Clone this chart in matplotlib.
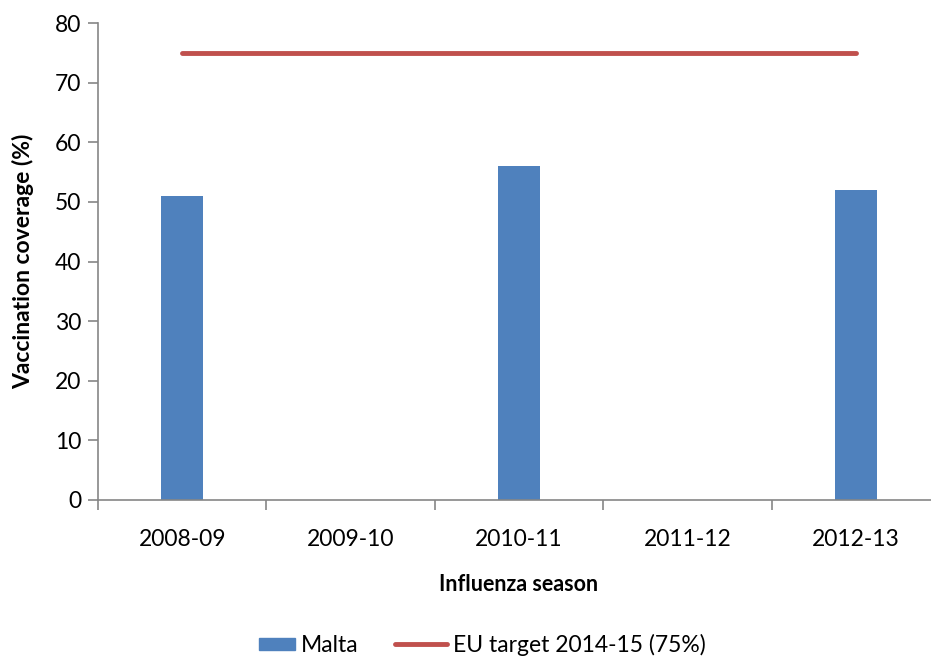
import numpy as np
import matplotlib.pyplot as plt
from matplotlib.patches import Patch, Rectangle
from matplotlib.lines import Line2D
from matplotlib.legend_handler import HandlerPatch

plt.rcParams['font.family'] = ['Lato', 'DejaVu Sans']

# Data
seasons = ['2008-09', '2009-10', '2010-11', '2011-12', '2012-13']
malta = [51, np.nan, 56, np.nan, 52]
eu_target = [75, 75, 75, 75, 75]

bar_color = '#4F81BD'
line_color = '#C0504D'
axis_color = '#868686'

fig = plt.figure(figsize=(9.31, 6.59), dpi=100)
# axes extends a bit beyond the right edge, like the reference
ax = fig.add_axes([98 / 931, 159 / 659, 842 / 931, 477 / 659])

x = np.arange(len(seasons))
ax.bar(x, np.nan_to_num(malta), width=0.25, color=bar_color, zorder=2)
ax.plot(x, eu_target, color=line_color, lw=3.5, solid_capstyle='round', zorder=3)

ax.set_xlim(-0.5, len(seasons) - 0.5)
ax.set_ylim(0, 80)
ax.set_yticks(range(0, 81, 10))

# category ticks at boundaries, labels at centres
ax.set_xticks(np.arange(-0.5, len(seasons)), minor=False)
ax.set_xticklabels([])
ax.set_xticks(x, minor=True)
ax.set_xticklabels(seasons, minor=True)
ax.tick_params(axis='x', which='major', length=7, color=axis_color, width=1.2)
ax.tick_params(axis='x', which='minor', length=0, pad=21, labelsize=16.5)
ax.tick_params(axis='y', length=7, color=axis_color, width=1.2, labelsize=16.5, pad=5)

for s in ['top', 'right']:
    ax.spines[s].set_visible(False)
for s in ['left', 'bottom']:
    ax.spines[s].set_color(axis_color)
    ax.spines[s].set_linewidth(1.2)

ax.set_ylabel('Vaccination coverage (%)', fontsize=16.5, fontweight='bold', labelpad=15)
ax.set_xlabel('Influenza season', fontsize=15.5, fontweight='bold', labelpad=17)


def small_box(legend, orig_handle, xdescent, ydescent, width, height, fontsize):
    w = width * 0.68
    h = height * 0.75
    return Rectangle((width - w - xdescent, (height - h) / 2 - ydescent), w, h)


handles = [Patch(color=bar_color, label='Malta'),
           Line2D([0], [0], color=line_color, lw=3.5, solid_capstyle='round',
                  label='EU target 2014-15 (75%)')]
fig.legend(handles=handles, loc='center', bbox_to_anchor=(474 / 931, 1 - 645 / 659),
           ncol=2, frameon=False, fontsize=16.5, handlelength=2.3, handletextpad=0.25,
           columnspacing=1.6,
           handler_map={Patch: HandlerPatch(patch_func=small_box)})

fig.savefig('out.png', dpi=100)
